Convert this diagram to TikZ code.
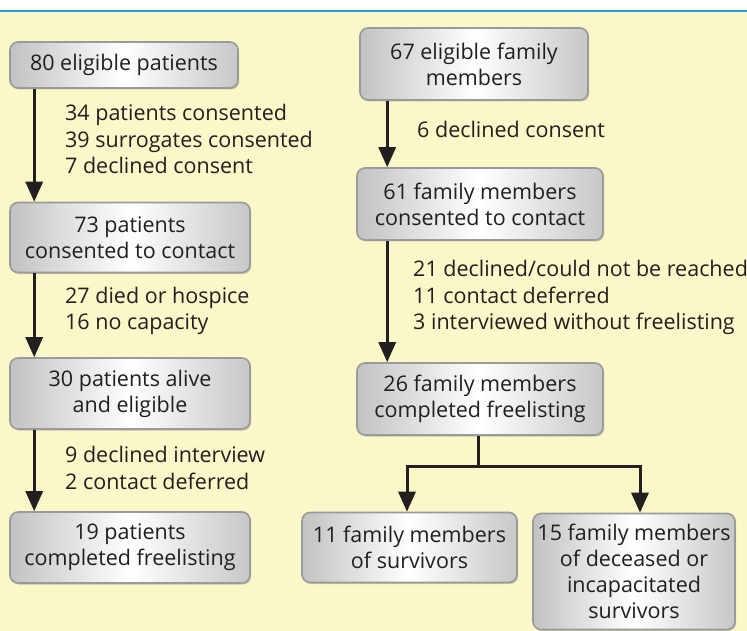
\documentclass[tikz,border=0pt]{standalone}
\usepackage{fontspec}
\setmainfont{Open Sans}
\usetikzlibrary{arrows.meta,shadows}
\definecolor{bgyellow}{HTML}{FAF7C8}
\definecolor{topline}{HTML}{1AA3D9}
\definecolor{ink}{HTML}{231F20}
\definecolor{boxline}{HTML}{9A9A9C}

\begin{document}
\begin{tikzpicture}[x=1pt, y=-1pt]
\tikzset{box/.style={draw=boxline, line width=1.6pt, rounded corners=8pt, left color=black!24, right color=black!22, middle color=white, text=ink, align=center, inner sep=0pt, font=\fontsize{21.5}{26}\selectfont, drop shadow={shadow xshift=1.2pt, shadow yshift=-1.5pt, fill=black, opacity=0.2}}}
\tikzset{lbl/.style={anchor=west, align=left, inner sep=0pt, text=ink, font=\fontsize{21.5}{26.5}\selectfont}}
\tikzset{arr/.style={line width=3pt, draw=ink, -{Triangle[length=20pt, width=17pt]}}}
\useasboundingbox (0,0) rectangle (747,631);
\fill[bgyellow] (0,11) rectangle (747,631);
\draw[topline, line width=2pt] (0,11) -- (747,11);
%\draw[help lines, step=50] (0,0) grid (747,631);

\node[box, minimum width=228pt, minimum height=46pt] (a) at (124,65) {80 eligible patients};
\node[box, minimum width=240pt, minimum height=70pt] (b) at (130,237.5) {73 patients\\consented to contact};
\node[box, minimum width=240pt, minimum height=71pt] (c) at (130,393.5) {30 patients alive\\and eligible};
\node[box, minimum width=240pt, minimum height=71pt] (d) at (130,547.5) {19 patients\\completed freelisting};

\node[box, minimum width=228pt, minimum height=72pt] (e) at (474,64) {67 eligible family\\members};
\node[box, minimum width=246pt, minimum height=72pt] (f) at (480,204) {61 family members\\consented to contact};
\node[box, minimum width=246pt, minimum height=72pt] (g) at (480,399) {26 family members\\completed freelisting};
\node[box, minimum width=215pt, minimum height=70pt] (h) at (409.5,547.5) {11 family members\\of survivors};
\node[box, minimum width=202pt, minimum height=116pt] (i) at (634,571.5) {15 family members\\of deceased or\\incapacitated\\survivors};

\node[lbl] (ab) at (65,139) {34 patients consented\\39 surrogates consented\\7 declined consent};
\node[lbl] (bc) at (65,311) {27 died or hospice\\16 no capacity};
\node[lbl] (cd) at (65,468) {9 declined interview\\2 contact deferred};
\node[lbl] (ef) at (417,129.5) {6 declined consent};
\node[lbl] (fg) at (413,297.5) {21 declined/could not be reached\\11 contact deferred\\3 interviewed without freelisting};

\draw[arr] ([xshift=25pt]a.south west) to ([xshift=25pt]a.south west |- b.north);
\draw[arr] ([xshift=25pt]b.south west) to ([xshift=25pt]b.south west |- c.north);
\draw[arr] ([xshift=25pt]c.south west) to ([xshift=25pt]c.south west |- d.north);

\draw[arr] ([xshift=28pt]e.south west) to ([xshift=28pt]e.south west |- f.north);
\draw[arr] ([xshift=31pt]f.south west) to ([xshift=31pt]f.south west |- g.north);

\coordinate (split) at ([xshift=-2pt, yshift=-31pt]g.south);
\draw[line width=3pt, draw=ink] ([xshift=-2pt]g.south) to (split);
\draw[arr] (split) -| ([xshift=-2.5pt]h.north);
\draw[arr] (split) -| ([xshift=6pt]i.north);
\end{tikzpicture}
\end{document}
